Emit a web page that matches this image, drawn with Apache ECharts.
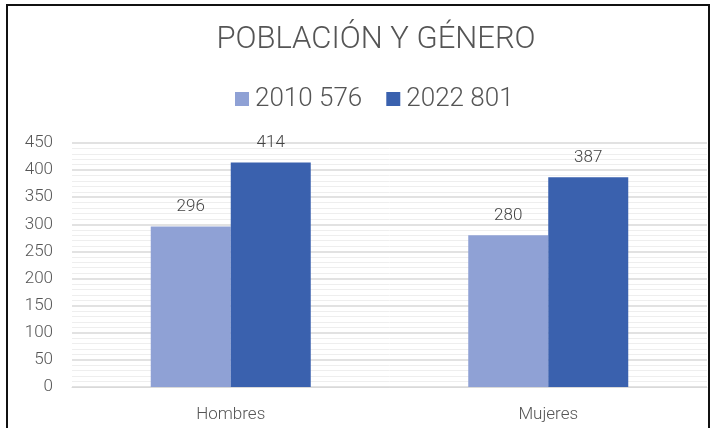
<!DOCTYPE html>
<html><head><meta charset="utf-8">
<script src="https://cdn.jsdelivr.net/npm/echarts@6/dist/echarts.min.js"></script>
<style>
html,body{margin:0;padding:0;background:#fff;}
#c{width:713px;height:428px;position:relative;}
#frame{position:absolute;left:6px;top:4px;width:700px;height:440px;border:2px solid #111;pointer-events:none;}
</style></head>
<body>
<div id="c"></div>
<div id="frame"></div>
<script>
const categories = ['Hombres', 'Mujeres'];
const seriesNames = ['2010 576', '2022 801'];
const values2010 = [296, 280];
const values2022 = [414, 387];
const yTicks = {min: 0, max: 450, interval: 50};

const chart = echarts.init(document.getElementById('c'));
const FONT = 'Roboto';
chart.setOption({
  backgroundColor: '#fff',
  animation: false,
  title: {
    text: 'POBLACIÓN Y GÉNERO', left: 371, top: 20, textAlign: 'center',
    textStyle: {fontFamily: FONT, fontWeight: 300, fontSize: 31, color: '#555'}
  },
  legend: {
    data: seriesNames, left: 230, top: 81, itemWidth: 14, itemHeight: 14, itemGap: 24,
    icon: 'rect',
    textStyle: {fontFamily: FONT, fontWeight: 300, fontSize: 26, color: '#555', padding: [0, 0, 0, 1]}
  },
  grid: {left: 72, right: 6, top: 143, bottom: 41, containLabel: false},
  xAxis: {
    type: 'category', data: categories,
    axisLine: {show: true, lineStyle: {color: '#d9d9d9'}},
    axisTick: {show: false},
    axisLabel: {fontFamily: FONT, fontWeight: 300, fontSize: 17, color: '#555', margin: 19}
  },
  yAxis: {
    type: 'value', min: yTicks.min, max: yTicks.max, interval: yTicks.interval,
    axisLine: {show: false}, axisTick: {show: false},
    axisLabel: {fontFamily: FONT, fontWeight: 300, fontSize: 17, color: '#555', margin: 19},
    splitLine: {lineStyle: {color: '#d9d9d9', width: 1.5}},
    minorTick: {show: false, splitNumber: 5},
    minorSplitLine: {show: true, lineStyle: {color: '#eeeeee', width: 1}}
  },
  series: [
    {name: seriesNames[0], type: 'bar', data: values2010, barWidth: 80, barGap: '0%',
     itemStyle: {color: '#8fa1d5'},
     label: {show: true, position: 'top', distance: 11, fontFamily: FONT, fontWeight: 300, fontSize: 17, color: '#444'}},
    {name: seriesNames[1], type: 'bar', data: values2022, barWidth: 80,
     itemStyle: {color: '#3a61ae'},
     label: {show: true, position: 'top', distance: 11, fontFamily: FONT, fontWeight: 300, fontSize: 17, color: '#444'}}
  ]
});
</script>
</body></html>
